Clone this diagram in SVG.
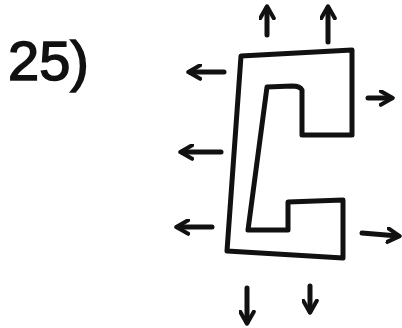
<svg xmlns="http://www.w3.org/2000/svg" width="402" height="328" viewBox="0 0 402 328">
<style>
.ln{fill:none;stroke:#111;stroke-width:5;stroke-linecap:round;stroke-linejoin:round}
.ar{fill:none;stroke:#111;stroke-width:5;stroke-linecap:round;marker-end:url(#ah)}
.lbl{font-family:"Liberation Sans",Arial,sans-serif;font-size:56px;fill:#111;stroke:#111;stroke-width:1.5}
</style>
<defs>
<marker id="ah" viewBox="0 0 10 10" refX="7" refY="5" markerWidth="3.4" markerHeight="3.4" orient="auto" markerUnits="strokeWidth">
<path d="M1,1 L8,5 L1,9" fill="none" stroke="#111" stroke-width="2.4" stroke-linecap="round" stroke-linejoin="round"/>
</marker>
</defs>
<rect width="402" height="328" fill="#fff"/>
<g id="label"><text class="lbl" x="8" y="80">25)</text></g>
<g id="shape">
<path class="ln" d="M241,56 L352,50 L352,135 L302,135 L302,90 Q300,86 292,86 L267,87 L248,230 L288,230 L288,202 L343,200 L343,258 L227,251 Z"/>
</g>
<g id="connectors">
<path class="ar" d="M267,35 L267,8"/>
<path class="ar" d="M328,42 L328,8"/>
<path class="ar" d="M224,72 L190,72"/>
<path class="ar" d="M221,152 L182,152"/>
<path class="ar" d="M212,227 L178,227"/>
<path class="ar" d="M368,98 L391,98"/>
<path class="ar" d="M362,233 L398,236"/>
<path class="ar" d="M247,288 L247,322"/>
<path class="ar" d="M310,286 L310,311"/>
</g>
</svg>
